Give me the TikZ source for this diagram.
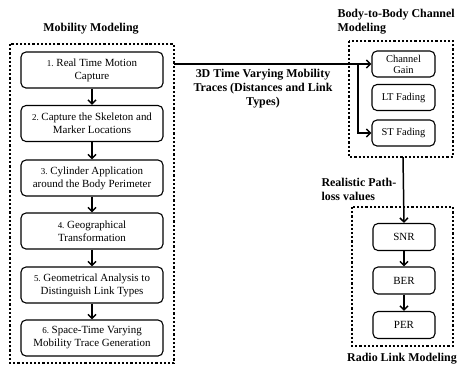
\documentclass[tikz,border=0pt]{standalone}
\usepackage{fontspec}
\setmainfont{Liberation Serif}
\usetikzlibrary{arrows.meta}

\tikzset{
    stage/.style={draw, line width=1.1pt, rounded corners=5pt, align=center,
        font=\fontsize{11}{13}\selectfont, inner sep=1pt},
    frame/.style={line width=2.2pt, dash pattern=on 2.2pt off 2pt},
    flow/.style={line width=1.5pt, -{Straight Barb[length=4pt,width=8pt]}},
    heading/.style={font=\fontsize{12}{14}\selectfont\bfseries},
}
\newcommand{\stepno}[1]{{\fontsize{9}{13}\selectfont #1.}~}

\begin{document}
\begin{tikzpicture}[x=1bp, y=-1bp]
    \useasboundingbox (0,0) rectangle (464,366);

    % 运动建模
    \node[heading] (mobtitle) at (91,29) {Mobility Modeling};
    \draw[frame] (10,44) rectangle (174,363);
    \coordinate (mobeast) at (174,64);

    \node[stage, minimum width=142bp, minimum height=36bp] (s1) at (92,70)
        {\stepno{1}Real Time Motion\\Capture};
    \node[stage, minimum width=142bp, minimum height=36bp] (s2) at (92,123.5)
        {\stepno{2}Capture the Skeleton and\\Marker Locations};
    \node[stage, minimum width=142bp, minimum height=36bp] (s3) at (92,178)
        {\stepno{3}Cylinder Application\\around the Body Perimeter};
    \node[stage, minimum width=142bp, minimum height=36bp] (s4) at (92,231)
        {\stepno{4}Geographical\\Transformation};
    \node[stage, minimum width=142bp, minimum height=36bp] (s5) at (92,285)
        {\stepno{5}Geometrical Analysis to\\Distinguish Link Types};
    \node[stage, minimum width=142bp, minimum height=36bp] (s6) at (92,338)
        {\stepno{6}Space-Time Varying\\Mobility Trace Generation};

    \foreach \a/\b in {s1/s2, s2/s3, s3/s4, s4/s5, s5/s6}
        \draw[flow] (\a) -- (\b);

    % 信道建模
    \node[heading, align=left, anchor=north west] (chtitle) at (334,6)
        {Body-to-Body Channel\\Modeling};
    \draw[frame] (349,41) rectangle (453,157);
    \node[stage, minimum width=63bp, minimum height=26bp, font=\fontsize{10.5}{11}\selectfont] (gain) at (403.5,64) {Channel\\Gain};
    \node[stage, minimum width=63bp, minimum height=26bp, font=\fontsize{10.5}{11}\selectfont] (lt) at (403.5,97.5) {LT Fading};
    \node[stage, minimum width=63bp, minimum height=26bp, font=\fontsize{10.5}{11}\selectfont] (st) at (403.5,133) {ST Fading};
    \coordinate (chsouth) at (403,157);

    % 轨迹输入
    \coordinate (split) at (358,64);
    \draw[line width=1.5pt] (mobeast) -- (split);
    \draw[flow] (split) -- (gain.west);
    \draw[flow] (split) |- (st.west);
    \node[heading, align=center] (traces) at (263,89)
        {3D Time Varying Mobility\\Traces (Distances and Link\\Types)};

    % 无线链路建模
    \draw[frame] (352,207) rectangle (453,346);
    \node[stage, minimum width=62bp, minimum height=27bp] (snr) at (404,237) {SNR};
    \node[stage, minimum width=62bp, minimum height=27bp] (ber) at (404,280.5) {BER};
    \node[stage, minimum width=62bp, minimum height=27bp] (per) at (404,325) {PER};
    \node[heading] (radiotitle) at (402,359) {Radio Link Modeling};

    \draw[flow] (chsouth) -- (snr.north);
    \node[heading, align=left, anchor=west] (pathloss) at (318,189)
        {Realistic Path-\\loss values};
    \draw[flow] (snr) -- (ber);
    \draw[flow] (ber) -- (per);
\end{tikzpicture}
\end{document}
